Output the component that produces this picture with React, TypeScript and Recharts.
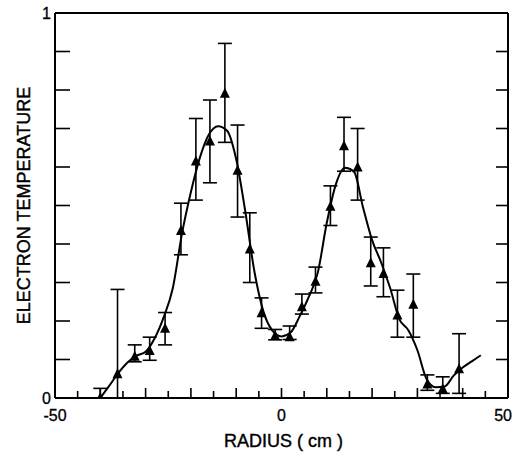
import React from "react";
import { ComposedChart, Line, Scatter, ErrorBar, XAxis, YAxis } from "recharts";

// measured points (radius in cm, electron temperature, error bar bounds)
const radius = [-40, -36.2, -32.4, -29.1, -25.7, -22.2, -18.9, -15.8, -12.5, -9.7, -7.0, -4.4, -1.4, 1.8, 4.5, 7.5, 10.8, 13.8, 16.8, 19.7, 22.5, 25.6, 29.1, 32.2, 35.6, 39.2];
const temp = [0.0, 0.062, 0.107, 0.122, 0.18, 0.434, 0.614, 0.666, 0.79, 0.59, 0.386, 0.22, 0.161, 0.158, 0.236, 0.302, 0.497, 0.654, 0.599, 0.35, 0.322, 0.214, 0.242, 0.035, 0.023, 0.075];
const errLow = [0.0, 0.0, 0.094, 0.098, 0.138, 0.372, 0.514, 0.559, 0.664, 0.47, 0.3, 0.181, 0.151, 0.152, 0.218, 0.273, 0.448, 0.589, 0.514, 0.291, 0.263, 0.158, 0.158, 0.02, 0.012, 0.012];
const errHigh = [0.025, 0.282, 0.138, 0.158, 0.222, 0.506, 0.726, 0.774, 0.921, 0.709, 0.481, 0.26, 0.178, 0.187, 0.27, 0.34, 0.551, 0.729, 0.7, 0.418, 0.39, 0.28, 0.322, 0.06, 0.055, 0.167];

// fitted curve
const fitRadius = [-40, -38, -36, -34, -32, -30, -28, -26, -24, -22, -20, -18, -16, -14, -12, -10, -8, -6, -4, -2, 0, 2, 4, 6, 8, 10, 12, 14, 16, 18, 20, 22, 24, 26, 28, 30, 32, 34, 36, 38, 40, 42, 44];
const fitTemp = [0.0, 0.032, 0.065, 0.092, 0.11, 0.12, 0.155, 0.21, 0.285, 0.425, 0.535, 0.625, 0.685, 0.706, 0.694, 0.62, 0.485, 0.33, 0.225, 0.175, 0.16, 0.17, 0.212, 0.262, 0.325, 0.455, 0.555, 0.598, 0.588, 0.495, 0.41, 0.352, 0.285, 0.205, 0.176, 0.124, 0.05, 0.028, 0.03, 0.058, 0.079, 0.095, 0.111];

const xTicks = [-50, -45, -40, -35, -30, -25, -20, -15, -10, -5, 0, 5, 10, 15, 20, 25, 30, 35, 40, 45, 50];
const yTicks = [0, 0.1, 0.2, 0.3, 0.4, 0.5, 0.6, 0.7, 0.8, 0.9, 1];
const xTickLabels = [-50, 0, 50];
const yTickLabels = [0, 1];

const points = radius.map((r, i) => ({ r, t: temp[i], err: [temp[i] - errLow[i], errHigh[i] - temp[i]] }));
const fit = fitRadius.map((r, i) => ({ r, t: fitTemp[i] }));

const font = "'Liberation Sans', Arial, sans-serif";
const ink = "#000";

const BottomTick = (props: any) => {
  const { x, y, payload } = props;
  const v = payload.value;
  const len = v % 10 === 0 ? 10 : 7;
  // the last label sits against the right edge, as in the scan
  const last = v === 50;
  return (
    <g>
      <line x1={x} x2={x} y1={y} y2={y - len} stroke={ink} strokeWidth={1.6} />
      {xTickLabels.includes(v) && (
        <text x={last ? x + 4 : x} y={y + 23} textAnchor={last ? "end" : "middle"} fontSize={16} fontFamily={font} fill={ink} stroke={ink} strokeWidth={0.3}>
          {v}
        </text>
      )}
    </g>
  );
};

const TopTick = (props: any) => {
  const { x, y, payload } = props;
  const len = payload.value % 10 === 0 ? 11 : 7;
  return <line x1={x} x2={x} y1={y} y2={y + len} stroke={ink} strokeWidth={1.6} />;
};

const LeftTick = (props: any) => {
  const { x, y, payload } = props;
  const v = payload.value;
  return (
    <g>
      <line x1={x} x2={x + 15} y1={y} y2={y} stroke={ink} strokeWidth={1.6} />
      {yTickLabels.includes(v) && (
        <text x={x - 4} y={y + 6} textAnchor="end" fontSize={16} fontFamily={font} fill={ink} stroke={ink} strokeWidth={0.3}>
          {v}
        </text>
      )}
    </g>
  );
};

const RightTick = (props: any) => {
  const { x, y } = props;
  return <line x1={x} x2={x - 12} y1={y} y2={y} stroke={ink} strokeWidth={1.6} />;
};

const Triangle = (props: any) => {
  const { cx, cy } = props;
  return <polygon points={`${cx},${cy - 6} ${cx - 5},${cy + 4} ${cx + 5},${cy + 4}`} fill={ink} />;
};

const YTitle = (props: any) => {
  const { viewBox } = props;
  const x = viewBox.x + viewBox.width - 25;
  const y = viewBox.y + viewBox.height / 2;
  return (
    <text x={x} y={y} transform={`rotate(-90, ${x}, ${y})`} textAnchor="middle" fontSize={18} fontFamily={font} fill={ink} stroke={ink} strokeWidth={0.4}>
      ELECTRON TEMPERATURE
    </text>
  );
};

const XTitle = (props: any) => {
  const { viewBox } = props;
  return (
    <text x={viewBox.x + viewBox.width / 2 + 2} y={viewBox.y + 49} textAnchor="middle" fontSize={18} fontFamily={font} fill={ink} stroke={ink} strokeWidth={0.4}>
      RADIUS ( cm )
    </text>
  );
};

export default function App() {
  return (
    <div style={{ position: "absolute", left: 0, top: 0, background: "#fff" }}>
      <ComposedChart width={513} height={452} margin={{ top: 8, right: 0, bottom: 24, left: 35 }}>
        <XAxis
          dataKey="r"
          type="number"
          domain={[-50, 50]}
          ticks={xTicks}
          interval={0}
          height={30}
          tickSize={0}
          tickMargin={0}
          tickLine={false}
          tick={<BottomTick />}
          axisLine={{ stroke: ink, strokeWidth: 2 }}
          allowDataOverflow
          label={<XTitle />}
        />
        <XAxis
          xAxisId="top"
          orientation="top"
          type="number"
          domain={[-50, 50]}
          ticks={xTicks}
          interval={0}
          height={5}
          tickSize={0}
          tickMargin={0}
          tickLine={false}
          tick={<TopTick />}
          axisLine={{ stroke: ink, strokeWidth: 2 }}
          allowDataOverflow
        />
        <YAxis
          dataKey="t"
          type="number"
          domain={[0, 1]}
          ticks={yTicks}
          interval={0}
          width={20}
          tickSize={0}
          tickMargin={0}
          tickLine={false}
          tick={<LeftTick />}
          axisLine={{ stroke: ink, strokeWidth: 2 }}
          allowDataOverflow
          label={<YTitle />}
        />
        <YAxis
          yAxisId="right"
          orientation="right"
          type="number"
          domain={[0, 1]}
          ticks={yTicks}
          interval={0}
          width={5}
          tickSize={0}
          tickMargin={0}
          tickLine={false}
          tick={<RightTick />}
          axisLine={{ stroke: ink, strokeWidth: 2 }}
          allowDataOverflow
        />
        <Line data={fit} dataKey="t" type="monotone" stroke={ink} strokeWidth={2} dot={false} activeDot={false} isAnimationActive={false} />
        <Scatter data={points} dataKey="t" shape={<Triangle />} isAnimationActive={false}>
          <ErrorBar dataKey="err" direction="y" width={7} stroke={ink} strokeWidth={1.6} />
        </Scatter>
      </ComposedChart>
    </div>
  );
}
